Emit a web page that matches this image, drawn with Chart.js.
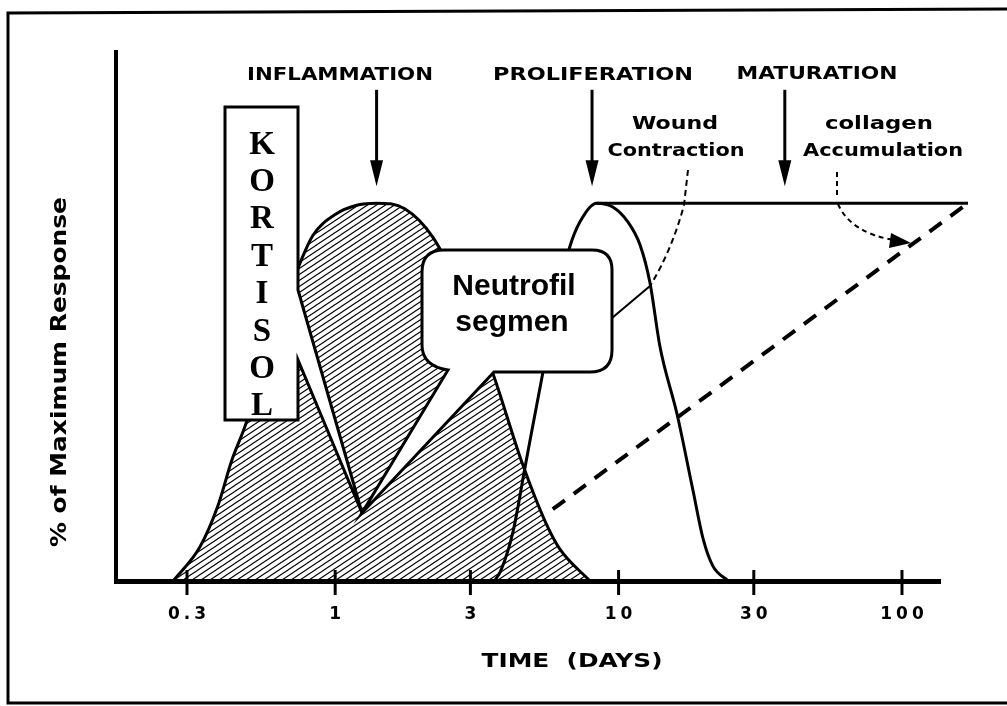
<!DOCTYPE html>
<html>
<head>
<meta charset="utf-8">
<script src="https://cdn.jsdelivr.net/npm/chart.js"></script>
<style>
html, body { margin: 0; padding: 0; background: #fff; }
#wrap { width: 1007px; height: 706px; }
</style>
</head>
<body>
<div id="wrap"><canvas id="myChart" width="1007" height="706"></canvas></div>
<script>
// tick labels on the time axis (days, log scale)
const tickDays = [0.3, 1, 3, 10, 30, 100];

// inflammation (hatched area)
const inflDays = [0.268, 0.333, 0.386, 0.432, 0.481, 0.56, 0.65, 0.75, 0.835, 1.0, 1.2, 1.4, 1.76, 2.21, 2.8, 3.6, 4.58, 5.49, 6.2, 7.93];
const inflResp = [0, 9, 20, 32, 41, 57, 72, 84, 91.5, 97, 99.5, 100, 98.5, 91, 76, 55, 31, 16, 8.5, 0];

// proliferation curve
const prolDays = [3.65, 3.84, 4.24, 4.7, 5.4, 6.1, 6.7, 7.3, 8.37, 9.54, 10.8, 11.9, 12.9, 14.0, 16.1, 18.3, 19.9, 21.5, 24.4];
const prolResp = [0, 2.7, 13, 31, 55, 75, 88, 95, 100, 99, 95, 89, 79, 62, 44, 24, 11, 4, 0];

// maturation plateau
const plateauDays = [8.37, 171];
const plateauResp = [100, 100];

// collagen accumulation (dashed)
const collagenDays = [5.86, 171];
const collagenResp = [19, 100];

// phase arrows
const phaseLabels = ['INFLAMMATION', 'PROLIFERATION', 'MATURATION'];
const phaseDays = [1.4, 8.06, 38.6];

const pts = (xs, ys) => xs.map((x, i) => ({ x: x, y: ys[i] }));

function hatch() {
  const w = 9, h = 6;
  const c = document.createElement('canvas');
  c.width = w; c.height = h;
  const g = c.getContext('2d');
  g.strokeStyle = '#000';
  g.lineWidth = 1.1;
  for (const k of [-1, 0, 1]) {
    g.beginPath();
    g.moveTo((k - 1) * w, 2 * h);
    g.lineTo((k + 2) * w, -h);
    g.stroke();
  }
  return g.createPattern(c, 'repeat');
}

function fitText(ctx, text, cx, cy, w, font) {
  ctx.font = font;
  const m = ctx.measureText(text).width;
  ctx.save();
  ctx.translate(cx, cy);
  ctx.scale(w / m, 1);
  ctx.textAlign = 'center';
  ctx.textBaseline = 'middle';
  ctx.fillText(text, 0, 0);
  ctx.restore();
}

function seg(ctx, x1, y1, x2, y2) {
  ctx.beginPath(); ctx.moveTo(x1, y1); ctx.lineTo(x2, y2); ctx.stroke();
}

const SANS = '"Liberation Sans", Arial, sans-serif';
const HEAVY = '"DejaVu Sans", Verdana, sans-serif';

const overlay = {
  id: 'overlay',
  beforeDraw(chart) { chart.ctx.letterSpacing = '4px'; },
  beforeDatasetsDraw(chart) { chart.ctx.letterSpacing = '0px'; },
  afterDatasetsDraw(chart) {
    const ctx = chart.ctx;
    const x = chart.scales.x, y = chart.scales.y;
    ctx.save();
    ctx.letterSpacing = '0px';
    ctx.strokeStyle = '#000';
    ctx.fillStyle = '#000';
    ctx.lineJoin = 'miter';
    ctx.lineCap = 'butt';

    // tick marks crossing the axis
    ctx.lineWidth = 3;
    tickDays.forEach(d => {
      const px = x.getPixelForValue(d);
      seg(ctx, px, y.bottom - 11, px, y.bottom + 14);
    });

    // Neutrofil speech bubble
    ctx.beginPath();
    ctx.moveTo(444, 250);
    ctx.lineTo(592, 250);
    ctx.quadraticCurveTo(612, 250, 612, 270);
    ctx.lineTo(612, 350);
    ctx.quadraticCurveTo(612, 372, 590, 372);
    ctx.lineTo(494, 372);
    ctx.lineTo(362, 513);
    ctx.lineTo(448, 370);
    ctx.quadraticCurveTo(422, 366, 422, 345);
    ctx.lineTo(422, 272);
    ctx.quadraticCurveTo(422, 250, 444, 250);
    ctx.closePath();
    ctx.fillStyle = '#fff';
    ctx.fill();
    ctx.lineWidth = 3;
    ctx.stroke();

    // Kortisol box
    ctx.beginPath();
    ctx.moveTo(225, 107);
    ctx.lineTo(298, 107);
    ctx.lineTo(298, 290);
    ctx.lineTo(362, 513);
    ctx.lineTo(298, 360);
    ctx.lineTo(298, 420);
    ctx.lineTo(225, 420);
    ctx.closePath();
    ctx.fill();
    ctx.stroke();

    ctx.fillStyle = '#000';
    ctx.textAlign = 'center';
    ctx.textBaseline = 'middle';
    ctx.font = 'bold 33px "Liberation Serif", "Times New Roman", serif';
    'KORTISOL'.split('').forEach((ch, i) => ctx.fillText(ch, 262, 145 + i * 37.4));

    ctx.font = 'bold 30px ' + SANS;
    ctx.textBaseline = 'alphabetic';
    ctx.fillText('Neutrofil', 514, 295);
    ctx.fillText('segmen', 512, 331);

    // phase arrows
    const yTop = y.getPixelForValue(130), yTip = y.getPixelForValue(104.5);
    phaseDays.forEach(d => {
      const px = x.getPixelForValue(d);
      ctx.lineWidth = 3;
      seg(ctx, px, yTop, px, yTip - 18);
      ctx.beginPath();
      ctx.moveTo(px - 6.5, yTip - 26);
      ctx.lineTo(px + 6.5, yTip - 26);
      ctx.lineTo(px, yTip);
      ctx.closePath();
      ctx.fill();
    });

    // phase labels
    const phaseFont = 'bold 18px ' + HEAVY;
    fitText(ctx, phaseLabels[0], 340, 75, 186, phaseFont);
    fitText(ctx, phaseLabels[1], 593, 75, 200, phaseFont);
    fitText(ctx, phaseLabels[2], 817, 74, 161, phaseFont);

    const noteFont = 'bold 17px ' + HEAVY;
    fitText(ctx, 'Wound', 675, 125, 86, noteFont);
    fitText(ctx, 'Contraction', 676, 152, 137, noteFont);
    fitText(ctx, 'collagen', 879, 125, 108, noteFont);
    fitText(ctx, 'Accumulation', 883, 152, 160, noteFont);

    // wound contraction pointer
    ctx.lineWidth = 2;
    ctx.setLineDash([6, 4]);
    ctx.beginPath();
    ctx.moveTo(688, 170);
    ctx.lineTo(684, 205);
    ctx.quadraticCurveTo(672, 250, 650, 286);
    ctx.stroke();
    ctx.setLineDash([]);
    seg(ctx, 650, 286, 612, 318);

    // collagen pointer
    ctx.setLineDash([5, 4]);
    seg(ctx, 837, 172, 837, 197);
    ctx.beginPath();
    ctx.moveTo(838, 204);
    ctx.quadraticCurveTo(850, 232, 893, 240);
    ctx.stroke();
    ctx.setLineDash([]);
    ctx.beginPath();
    ctx.moveTo(911, 243);
    ctx.lineTo(891, 233);
    ctx.lineTo(889, 248);
    ctx.closePath();
    ctx.fill();

    // axis titles
    fitText(ctx, 'TIME  (DAYS)', 572, 662, 181, 'bold 19px ' + HEAVY);
    ctx.save();
    ctx.translate(60, 372);
    ctx.rotate(-Math.PI / 2);
    fitText(ctx, '% of Maximum Response', 0, 0, 350, 'bold 22px ' + HEAVY);
    ctx.restore();

    // frame
    ctx.lineWidth = 3;
    ctx.beginPath();
    ctx.moveTo(1007, 9);
    ctx.lineTo(8, 13);
    ctx.lineTo(8, 703);
    ctx.lineTo(1007, 703);
    ctx.stroke();

    ctx.restore();
  }
};

const ctx = document.getElementById('myChart');
const myChart = new Chart(ctx, {
  type: 'line',
  data: {
    datasets: [
      {
        label: 'Inflammation',
        data: pts(inflDays, inflResp),
        borderColor: '#000',
        borderWidth: 3,
        backgroundColor: hatch(),
        fill: 'origin',
        cubicInterpolationMode: 'monotone'
      },
      {
        label: 'Proliferation',
        data: pts(prolDays, prolResp),
        borderColor: '#000',
        borderWidth: 3,
        fill: false,
        cubicInterpolationMode: 'monotone'
      },
      {
        label: 'Maturation',
        data: pts(plateauDays, plateauResp),
        borderColor: '#000',
        borderWidth: 3,
        fill: false,
        clip: false
      },
      {
        label: 'Collagen accumulation',
        data: pts(collagenDays, collagenResp),
        borderColor: '#000',
        borderWidth: 4,
        borderDash: [15, 11],
        fill: false,
        clip: false
      }
    ]
  },
  options: {
    responsive: false,
    animation: false,
    devicePixelRatio: 1,
    layout: { padding: { left: 116, top: 52, right: 67, bottom: 0 } },
    elements: { point: { radius: 0 } },
    plugins: {
      legend: { display: false },
      tooltip: { enabled: false }
    },
    scales: {
      x: {
        type: 'logarithmic',
        min: 0.1685,
        max: 136.2,
        afterBuildTicks: s => { s.ticks = tickDays.map(v => ({ value: v })); },
        afterFit: s => { s.height = 125; },
        grid: { display: false, drawTicks: false },
        border: { display: true, color: '#000', width: 5 },
        ticks: {
          color: '#000',
          font: { family: HEAVY, size: 17, weight: 'bold' },
          padding: 23,
          maxRotation: 0,
          autoSkip: false,
          labelOffset: 2,
          callback: v => String(v)
        }
      },
      y: {
        min: 0,
        max: 140,
        afterFit: s => { s.width = 0; },
        grid: { display: false, drawTicks: false },
        border: { display: true, color: '#000', width: 4 },
        ticks: { display: false }
      }
    }
  },
  plugins: [overlay]
});
</script>
</body>
</html>
